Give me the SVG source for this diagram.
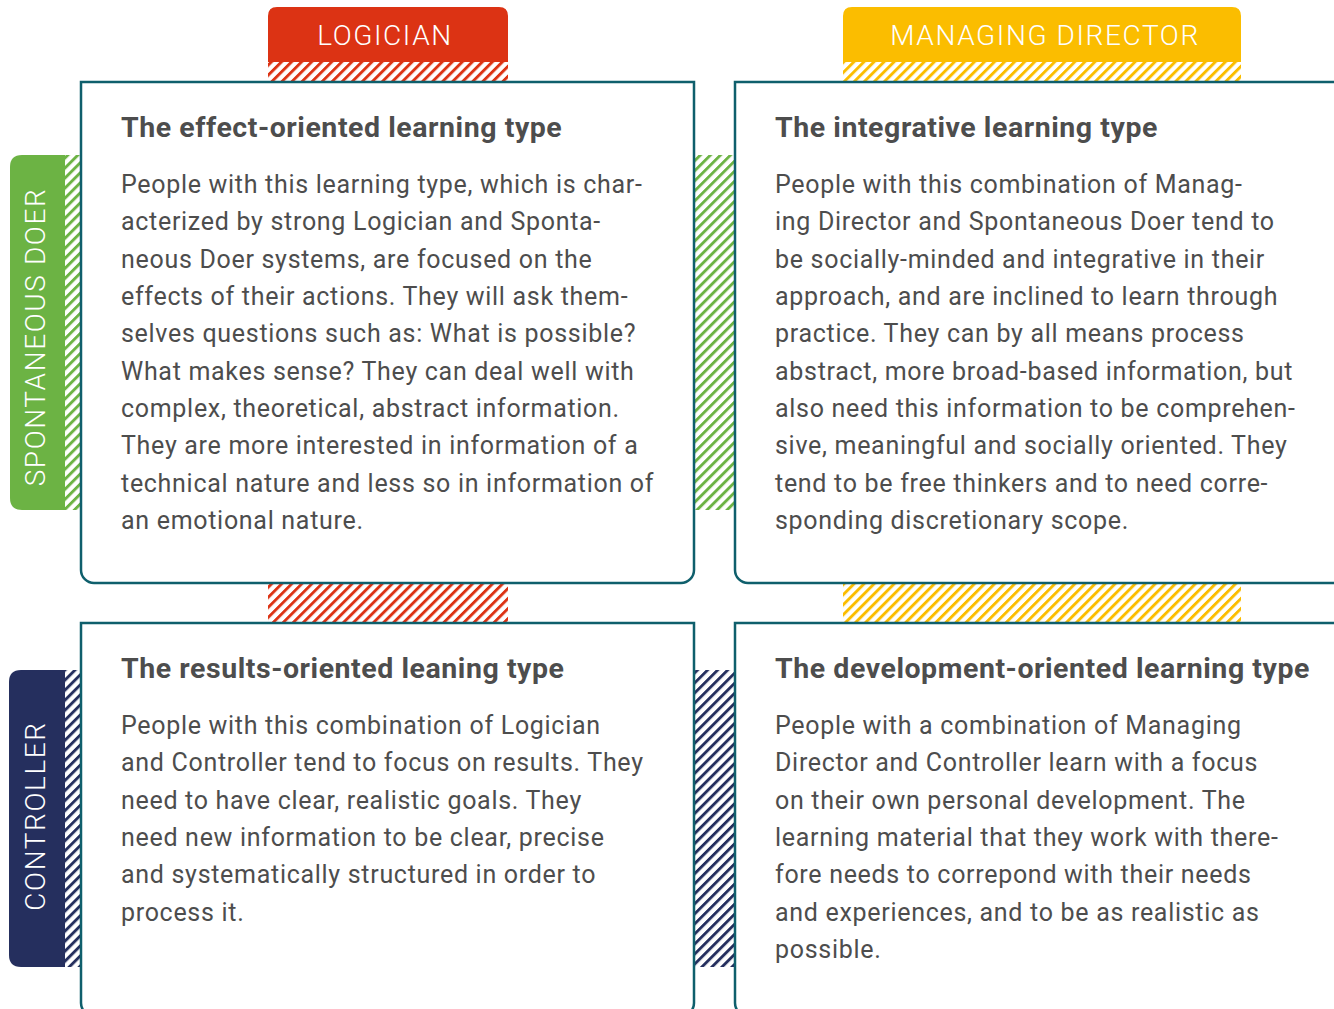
<svg xmlns="http://www.w3.org/2000/svg" width="1334" height="1009" viewBox="0 0 1334 1009">
<defs>
<pattern id="hRed" patternUnits="userSpaceOnUse" width="7.1" height="7.1" patternTransform="rotate(45)"><rect x="0" y="0" width="2.9" height="7.1" fill="#dc3314"/></pattern>
<pattern id="hYel" patternUnits="userSpaceOnUse" width="7.1" height="7.1" patternTransform="rotate(45)"><rect x="0" y="0" width="2.9" height="7.1" fill="#fbbd00"/></pattern>
<pattern id="hGrn" patternUnits="userSpaceOnUse" width="7.1" height="7.1" patternTransform="rotate(45)"><rect x="0" y="0" width="2.9" height="7.1" fill="#6cb344"/></pattern>
<pattern id="hNav" patternUnits="userSpaceOnUse" width="7.1" height="7.1" patternTransform="rotate(45)"><rect x="0" y="0" width="2.9" height="7.1" fill="#252f5e"/></pattern>
</defs>
<style>
.box{fill:#ffffff;stroke:#0f5f6c;stroke-width:2.5}
.tabt{font-family:Roboto,"Liberation Sans",sans-serif;font-weight:300;font-size:28px;letter-spacing:1.6px;fill:#ffffff;text-anchor:middle}
.ttl{font-family:Roboto,"Liberation Sans",sans-serif;font-weight:700;font-size:28.5px;letter-spacing:0.55px;fill:#4d4d4d}
.body{font-family:Roboto,"Liberation Sans",sans-serif;font-weight:400;font-size:25px;letter-spacing:0.7px;fill:#4d4d4d}
</style>
<rect width="1334" height="1009" fill="#ffffff"/>

<g id="tab-logician">
<path d="M268,62 V16 Q268,7 277,7 H499 Q508,7 508,16 V62 Z" fill="#dc3314"/>
<rect x="268" y="62" width="240" height="19" fill="url(#hRed)"/>
<rect x="268" y="584" width="240" height="38" fill="url(#hRed)"/>
<text class="tabt" x="385" y="45">LOGICIAN</text>
</g>

<g id="tab-managing-director">
<path d="M843,62 V16 Q843,7 852,7 H1232 Q1241,7 1241,16 V62 Z" fill="#fbbd00"/>
<rect x="843" y="62" width="398" height="19" fill="url(#hYel)"/>
<rect x="843" y="584" width="398" height="38" fill="url(#hYel)"/>
<text class="tabt" x="1045" y="45">MANAGING DIRECTOR</text>
</g>

<g id="tab-spontaneous-doer">
<path d="M65,155 H22 Q10,155 10,167 V498 Q10,510 22,510 H65 Z" fill="#6cb344"/>
<rect x="65" y="155" width="15" height="355" fill="url(#hGrn)"/>
<rect x="695" y="155" width="39" height="355" fill="url(#hGrn)"/>
<text class="tabt" transform="translate(45,337) rotate(-90)" x="0" y="0">SPONTANEOUS DOER</text>
</g>

<g id="tab-controller">
<path d="M65,670 H21 Q9,670 9,682 V955 Q9,967 21,967 H65 Z" fill="#252f5e"/>
<rect x="65" y="670" width="15" height="297" fill="url(#hNav)"/>
<rect x="695" y="670" width="39" height="297" fill="url(#hNav)"/>
<text class="tabt" transform="translate(45,816) rotate(-90)" x="0" y="0">CONTROLLER</text>
</g>

<g id="box-effect-oriented">
<path class="box" d="M81,82 H694 V570 A13,13 0 0 1 681,583 H94 A13,13 0 0 1 81,570 Z"/>
<text class="ttl" x="121" y="136.5">The effect-oriented learning type</text>
<text class="body" x="121" y="193">People with this learning type, which is char-</text>
<text class="body" x="121" y="230.3">acterized by strong Logician and Sponta-</text>
<text class="body" x="121" y="267.7">neous Doer systems, are focused on the</text>
<text class="body" x="121" y="305">effects of their actions. They will ask them-</text>
<text class="body" x="121" y="342.3">selves questions such as: What is possible?</text>
<text class="body" x="121" y="379.7">What makes sense? They can deal well with</text>
<text class="body" x="121" y="417">complex, theoretical, abstract information.</text>
<text class="body" x="121" y="454.3">They are more interested in information of a</text>
<text class="body" x="121" y="491.7">technical nature and less so in information of</text>
<text class="body" x="121" y="529">an emotional nature.</text>
</g>

<g id="box-integrative">
<path class="box" d="M735,82 H1350 V583 H748 A13,13 0 0 1 735,570 Z"/>
<text class="ttl" x="775" y="136.5">The integrative learning type</text>
<text class="body" x="775" y="193">People with this combination of Manag-</text>
<text class="body" x="775" y="230.3">ing Director and Spontaneous Doer tend to</text>
<text class="body" x="775" y="267.7">be socially-minded and integrative in their</text>
<text class="body" x="775" y="305">approach, and are inclined to learn through</text>
<text class="body" x="775" y="342.3">practice. They can by all means process</text>
<text class="body" x="775" y="379.7">abstract, more broad-based information, but</text>
<text class="body" x="775" y="417">also need this information to be comprehen-</text>
<text class="body" x="775" y="454.3">sive, meaningful and socially oriented. They</text>
<text class="body" x="775" y="491.7">tend to be free thinkers and to need corre-</text>
<text class="body" x="775" y="529">sponding discretionary scope.</text>
</g>

<g id="box-results-oriented">
<path class="box" d="M81,623 H694 V1003 A13,13 0 0 1 681,1016 H94 A13,13 0 0 1 81,1003 Z"/>
<text class="ttl" x="121" y="677.5">The results-oriented leaning type</text>
<text class="body" x="121" y="734">People with this combination of Logician</text>
<text class="body" x="121" y="771.3">and Controller tend to focus on results. They</text>
<text class="body" x="121" y="808.7">need to have clear, realistic goals. They</text>
<text class="body" x="121" y="846">need new information to be clear, precise</text>
<text class="body" x="121" y="883.3">and systematically structured in order to</text>
<text class="body" x="121" y="920.7">process it.</text>
</g>

<g id="box-development-oriented">
<path class="box" d="M735,623 H1350 V1016 H748 A13,13 0 0 1 735,1003 Z"/>
<text class="ttl" x="775" y="677.5">The development-oriented learning type</text>
<text class="body" x="775" y="734">People with a combination of Managing</text>
<text class="body" x="775" y="771.3">Director and Controller learn with a focus</text>
<text class="body" x="775" y="808.7">on their own personal development. The</text>
<text class="body" x="775" y="846">learning material that they work with there-</text>
<text class="body" x="775" y="883.3">fore needs to correpond with their needs</text>
<text class="body" x="775" y="920.7">and experiences, and to be as realistic as</text>
<text class="body" x="775" y="958">possible.</text>
</g>

<g id="connectors"></g>
</svg>
